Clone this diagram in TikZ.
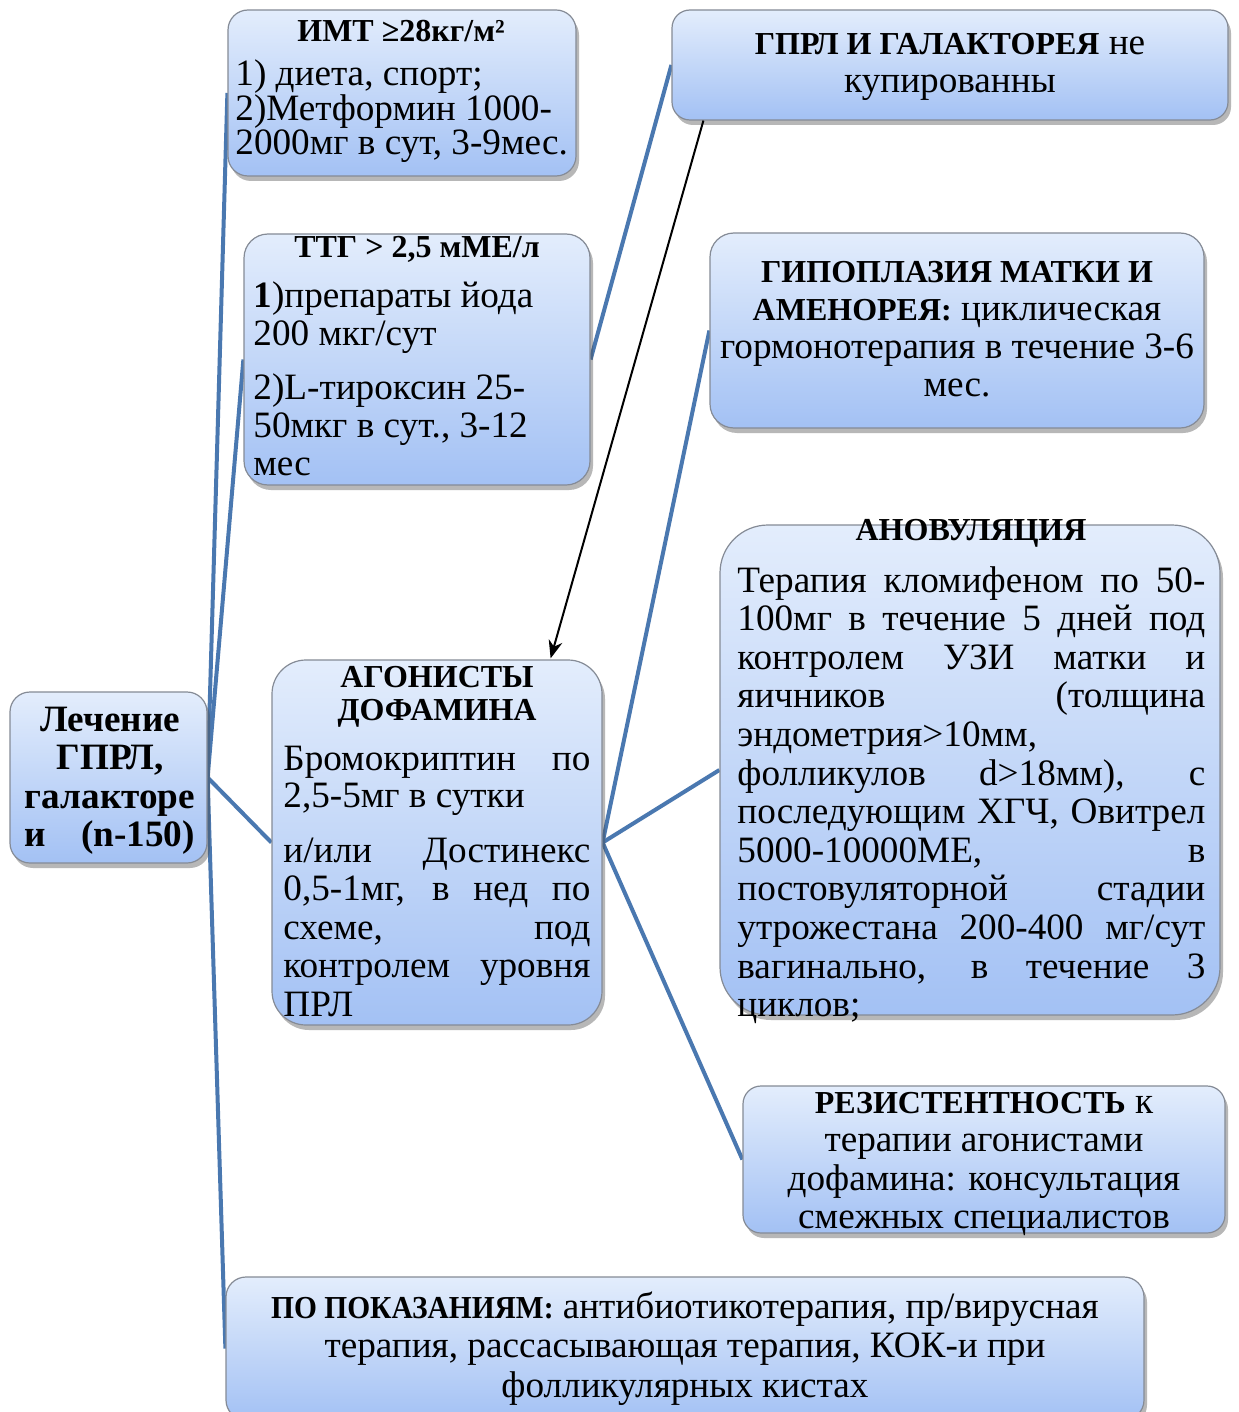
\documentclass[tikz,border=0pt]{standalone}
\usepackage{fontspec}
\usepackage{graphicx}
\setmainfont{Liberation Serif}
\usetikzlibrary{shadows,arrows.meta,calc}
\pgfdeclarelayer{bg}\pgfsetlayers{bg,main}
\definecolor{linkblue}{HTML}{4A78B0}
\definecolor{boxtop}{HTML}{E3EDFC}
\definecolor{boxbot}{HTML}{A3C1F4}
\definecolor{boxedge}{HTML}{858B96}
\newlength\jw
\newcommand\J[1]{\makebox[\jw][s]{#1}}
\newcommand\bsm[1]{{\fontsize{16}{19}\selectfont\bfseries #1}}
\tikzset{
 x={0.5pt}, y={-0.5pt},
 boxnode/.style={draw=boxedge, line width=0.6pt, top color=boxtop, bottom color=boxbot,
   drop shadow={shadow xshift=1.5pt, shadow yshift=-2.5pt, opacity=0.4, fill=black!70}, inner sep=0},
 link/.style={draw=linkblue, line width=2pt},
 txt/.style={inner sep=0, font=\fontsize{18.6}{22}\selectfont},
 ttl/.style={inner sep=0, font=\fontsize{16}{19}\selectfont\bfseries},
}
\newcommand\mybox[6]{\node[boxnode, rounded corners=#6, minimum width={(#4-#2)*0.5pt}, minimum height={(#5-#3)*0.5pt}] (#1) at ({(#2+#4)/2},{(#3+#5)/2}) {};}
\newcommand\lns[6]{\foreach \t [count=\i] in {#6} {\node[txt, anchor=#2] (#1-\i) at (#3,{#4+(\i-1)*#5}) {\t};}}
\begin{document}
\begin{tikzpicture}
\useasboundingbox (0,0) rectangle (1238,1412);
% boxes
\mybox{imt}{228}{10}{576}{176}{10pt}
\mybox{ttg}{244}{234}{590}{485}{12pt}
\mybox{gprl}{672}{10}{1228}{120}{9pt}
\mybox{hyp}{710}{233}{1204}{428}{12pt}
\mybox{root}{10}{692}{207}{863}{10pt}
\mybox{ago}{272}{660}{602}{1025}{17pt}
\mybox{ano}{720}{525}{1220}{1015}{24pt}
\mybox{rez}{743}{1086}{1225}{1233}{9pt}
\mybox{pok}{226}{1277}{1144}{1420}{10pt}
% connectors
\begin{pgfonlayer}{bg}
\fill[white] (0,0) rectangle (1238,1412);
\end{pgfonlayer}
\begin{pgfonlayer}{bg}
\draw[link] (root.east) -- (imt.west);
\draw[link] (root.east) -- (ttg.west);
\draw[link] (root.east) -- (ago.west);
\draw[link] (root.east) -- (pok.west);
\draw[link] (ago.east) -- (hyp.west);
\draw[link] (ago.east) -- (ano.west);
\draw[link] (ago.east) -- (rez.west);
\draw[link] (ttg.east) -- (gprl.west);
\end{pgfonlayer}
\draw[-{Stealth[length=9pt,width=7pt]}, line width=1pt] ($(gprl.south west)+(32,0)$) -- ($(ago.north east)+(-52,-1)$);
% IMT
\node[ttl] (imt-t) at (401,42) [anchor=base] {ИМТ ≥28кг/м²};
\lns{imt}{base west}{235}{86}{34.5}{{1) диета, спорт;},{2)Метформин 1000-},{2000мг в сут, 3-9мес.}}
% TTG
\node[ttl] (ttg-t) at (417,257) [anchor=base] {ТТГ > 2,5 мМЕ/л};
\lns{ttga}{base west}{253}{307}{38}{{\textbf{1})препараты йода},{200 мкг/сут}}
\lns{ttgb}{base west}{253}{399}{38}{{2)L-тироксин 25-},{50мкг в сут., 3-12},{мес}}
% GPRL
\lns{gprl}{base}{950}{55}{38}{{\bsm{ГПРЛ И ГАЛАКТОРЕЯ} не},{купированны}}
% HYP
\lns{hyp}{base}{957}{282}{38.3}{{\bsm{ГИПОПЛАЗИЯ МАТКИ И}},{\bsm{АМЕНОРЕЯ:} циклическая},{гормонотерапия в течение 3-6},{мес.}}
% root
\setlength\jw{85pt}
\lns{root}{base}{110}{731}{38.5}{{\textbf{Лечение}},{\textbf{ГПРЛ,}},{\textbf{галакторе}},{\J{\textbf{и (n-150)}}}}
% AGO
\node[ttl] (ago-t1) at (437,687) [anchor=base] {АГОНИСТЫ};
\node[ttl] (ago-t2) at (437,720) [anchor=base] {ДОФАМИНА};
\setlength\jw{153.5pt}
\lns{agoa}{base west}{283}{770}{37.5}{{\J{Бромокриптин по}},{2,5-5мг в сутки}}
\lns{agob}{base west}{283}{862}{38.5}{{\J{и/или Достинекс}},{\J{0,5-1мг, в нед по}},{\J{схеме, под}},{\J{контролем уровня}},{ПРЛ}}
% ANO
\node[ttl] (ano-t) at (971,540) [anchor=base] {АНОВУЛЯЦИЯ};
\setlength\jw{234pt}
\lns{ano}{base west}{737}{592}{38.6}{{\J{Терапия кломифеном по 50-}},{\J{100мг в течение 5 дней под}},{\J{контролем УЗИ матки и}},{\J{яичников (толщина}},{эндометрия>10мм,},{\J{фолликулов d>18мм), с}},{\J{последующим ХГЧ, Овитрел}},{\J{5000-10000МЕ, в}},{\J{постовуляторной стадии}},{\J{утрожестана 200-400 мг/сут}},{\J{вагинально, в течение 3}},{циклов;}}
% REZ
\lns{rez}{base}{984}{1113}{38.5}{{\bsm{РЕЗИСТЕНТНОСТЬ} к},{терапии агонистами},{дофамина: консультация},{смежных специалистов}}
% POK
\lns{pok}{base}{685}{1318}{39.5}{{\scalebox{0.92}[1]{\bsm{ПО ПОКАЗАНИЯМ:}} антибиотикотерапия, пр/вирусная},{терапия, рассасывающая терапия, КОК-и при},{фолликулярных кистах}}
\end{tikzpicture}
\end{document}
